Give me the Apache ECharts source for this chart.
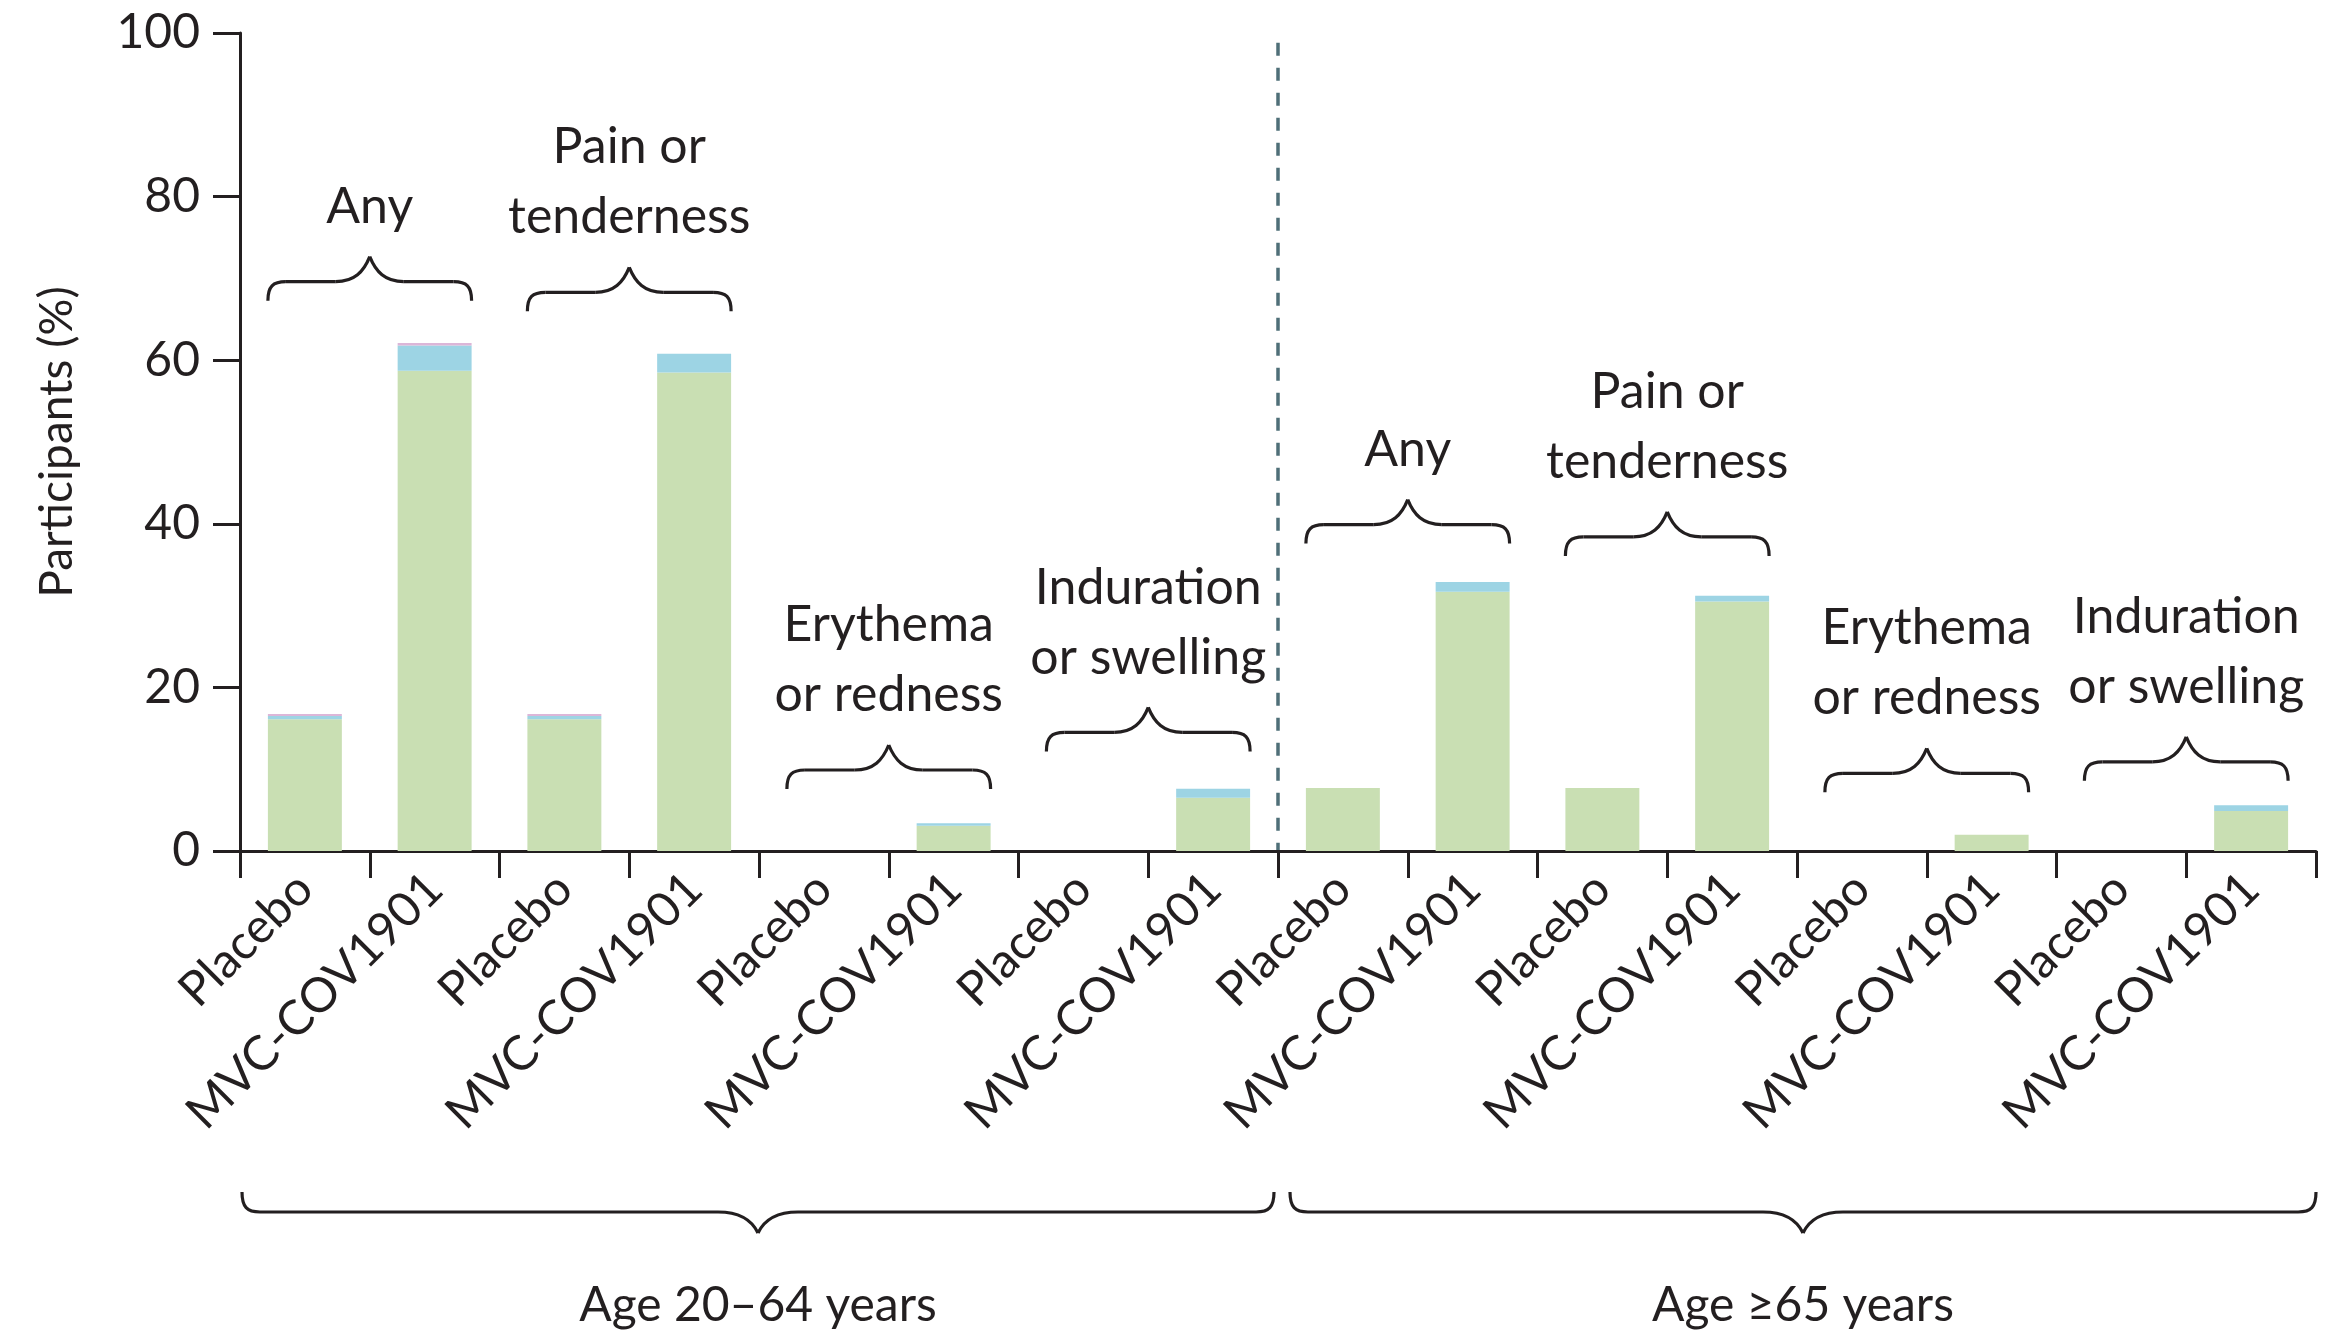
<!DOCTYPE html>
<html>
<head>
<meta charset="utf-8">
<title>Local reactions</title>
<script src="https://cdn.jsdelivr.net/npm/echarts@6/dist/echarts.min.js"></script>
<style>
  html, body { margin: 0; padding: 0; background: #fff; }
  #chart { width: 2352px; height: 1342px; }
</style>
</head>
<body>
<div id="chart"></div>
<script>
// categories along the x axis (placebo / vaccine pairs)
const categories = [
  'Placebo', 'MVC-COV1901', 'Placebo', 'MVC-COV1901',
  'Placebo', 'MVC-COV1901', 'Placebo', 'MVC-COV1901',
  'Placebo', 'MVC-COV1901', 'Placebo', 'MVC-COV1901',
  'Placebo', 'MVC-COV1901', 'Placebo', 'MVC-COV1901'
]
// stacked parts, % of participants
const grade1 = [16.1, 58.7, 16.1, 58.5, 0, 3.1, 0, 6.5, 7.7, 31.7, 7.7, 30.5, 0, 2.0, 0, 4.9]
const grade2 = [0.4, 3.1, 0.4, 2.3, 0, 0.3, 0, 1.1, 0, 1.2, 0, 0.7, 0, 0, 0, 0.7]
const grade3 = [0.25, 0.3, 0.25, 0, 0, 0, 0, 0, 0, 0, 0, 0, 0, 0, 0, 0]

const yTicks = [0, 20, 40, 60, 80, 100]
const groupLabels = [
  ['Any'], ['Pain or', 'tenderness'], ['Erythema', 'or redness'], ['Induration', 'or swelling'],
  ['Any'], ['Pain or', 'tenderness'], ['Erythema', 'or redness'], ['Induration', 'or swelling']
]
// level (in %) of the horizontal stroke of each small brace
const braceLevels = [69.6, 68.3, 9.9, 14.5, 39.9, 38.4, 9.5, 10.9]
const ageLabels = ['Age 20\u201364 years', 'Age \u226565 years']

const FONT = 'Lato, "Open Sans", sans-serif'
const INK = '#231f20'

const chart = echarts.init(document.getElementById('chart'))

const option = {
  animation: false,
  grid: { left: 240, right: 36, top: 33, bottom: 491 },
  xAxis: {
    type: 'category',
    data: categories,
    axisLine: { lineStyle: { color: INK, width: 3 } },
    axisTick: { show: true, interval: 0, length: 27, lineStyle: { color: INK, width: 3 } },
    axisLabel: {
      interval: 0, rotate: 45, margin: 30,
      fontSize: 48, fontFamily: FONT, color: INK
    }
  },
  yAxis: {
    type: 'value',
    min: yTicks[0], max: yTicks[yTicks.length - 1], interval: 20,
    name: 'Participants (%)',
    nameLocation: 'middle',
    nameGap: 160,
    nameTextStyle: { fontSize: 46, fontFamily: FONT, color: INK },
    splitLine: { show: false },
    axisLine: { show: true, lineStyle: { color: INK, width: 3 } },
    axisTick: { show: true, length: 27, lineStyle: { color: INK, width: 3 } },
    axisLabel: { margin: 40, fontSize: 48, fontFamily: FONT, color: INK }
  },
  series: [
    { name: 'Grade 1', type: 'bar', stack: 'a', barWidth: '57%', data: grade1, itemStyle: { color: '#c9dfb3' } },
    { name: 'Grade 2', type: 'bar', stack: 'a', barWidth: '57%', data: grade2, itemStyle: { color: '#9dd4e4' } },
    { name: 'Grade 3', type: 'bar', stack: 'a', barWidth: '57%', data: grade3, itemStyle: { color: '#dcb6d8' } }
  ]
}
chart.setOption(option)

function px(catIdx, val) {
  return chart.convertToPixel({ gridIndex: 0 }, [catIdx, val])
}

const strokeStyle = { stroke: INK, lineWidth: 3.2, fill: null }
function seg(x1, y1, x2, y2) {
  return { type: 'line', shape: { x1, y1, x2, y2 }, style: strokeStyle }
}
function curve(x1, y1, c1x, c1y, c2x, c2y, x2, y2) {
  return {
    type: 'bezierCurve',
    shape: { x1, y1, cpx1: c1x, cpy1: c1y, cpx2: c2x, cpy2: c2y, x2, y2 },
    style: strokeStyle
  }
}

// curly brace; dir = -1 points up (ends hook down), dir = 1 points down
function brace(x1, x2, y, dir, endH, peakH, neck) {
  const xm = (x1 + x2) / 2
  const e = -dir * endH
  const p = dir * peakH
  return [
    curve(x1, y + e, x1, y + e * 0.25, x1 + 5, y, x1 + 18, y),
    seg(x1 + 18, y, xm - neck, y),
    curve(xm - neck, y, xm - neck * 0.45, y, xm - 6, y + p * 0.4, xm, y + p),
    curve(xm, y + p, xm + 6, y + p * 0.4, xm + neck * 0.45, y, xm + neck, y),
    seg(xm + neck, y, x2 - 18, y),
    curve(x2 - 18, y, x2 - 5, y, x2, y + e * 0.25, x2, y + e)
  ]
}

function drawAnnotations() {
  let graphics = []
  const step = px(1, 0)[0] - px(0, 0)[0]
  const half = step * 0.285
  const axisY = px(0, 0)[1]

  groupLabels.forEach((lines, g) => {
    const x1 = px(2 * g, 0)[0] - half
    const x2 = px(2 * g + 1, 0)[0] + half
    const y = px(0, braceLevels[g])[1]
    graphics = graphics.concat(brace(x1, x2, y, -1, 19, 25, 34))
    lines.forEach((t, k) => {
      graphics.push({
        type: 'text',
        style: {
          text: t, x: (x1 + x2) / 2, y: y - 75 - (lines.length - 1 - k) * 70,
          font: '50px ' + FONT, fill: INK, align: 'center', verticalAlign: 'middle'
        }
      })
    })
  })

  // dashed separator between the age groups
  const xs = (px(7, 0)[0] + px(8, 0)[0]) / 2
  graphics.push({
    type: 'line',
    shape: { x1: xs, y1: px(0, 98.8)[1], x2: xs, y2: axisY },
    style: { stroke: '#4f6f78', lineWidth: 3.5, lineDash: [13, 12] }
  })

  // age group braces
  ageLabels.forEach((t, a) => {
    const left = px(8 * a, 0)[0] - step / 2
    const right = px(8 * a + 7, 0)[0] + step / 2
    const x1 = a === 0 ? left + 2 : left + 12
    const x2 = a === 0 ? right - 4 : right
    const y = axisY + 361
    graphics = graphics.concat(brace(x1, x2, y, 1, 20, 21, 40))
    graphics.push({
      type: 'text',
      style: {
        text: t, x: (x1 + x2) / 2, y: axisY + 455,
        font: '48px ' + FONT, fill: INK, align: 'center', verticalAlign: 'middle'
      }
    })
  })

  chart.setOption({ graphic: { elements: graphics } })
}
drawAnnotations()

window.addEventListener('resize', () => {
  chart.resize()
  drawAnnotations()
})
</script>
</body>
</html>
